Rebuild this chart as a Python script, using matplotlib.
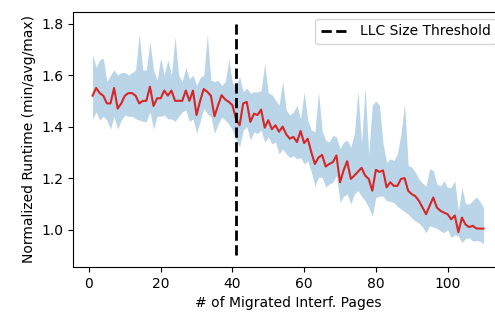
import numpy as np
import matplotlib
matplotlib.use("Agg")
import matplotlib.pyplot as plt

# values (x = 1..110)
pages = list(range(1, 111))

avg_runtime = [
    1.52, 1.55, 1.53, 1.52, 1.49, 1.49, 1.55, 1.47, 1.49, 1.52,
    1.53, 1.53, 1.52, 1.49, 1.50, 1.50, 1.555, 1.48, 1.51, 1.51,
    1.54, 1.52, 1.54, 1.50, 1.50, 1.50, 1.54, 1.50, 1.54, 1.445,
    1.50, 1.546, 1.535, 1.52, 1.44, 1.483, 1.522, 1.505, 1.496, 1.483,
    1.43, 1.405, 1.49, 1.496, 1.418, 1.45, 1.445, 1.466, 1.396, 1.425,
    1.39, 1.405, 1.38, 1.40, 1.37, 1.353, 1.36, 1.34, 1.383, 1.336,
    1.353, 1.30, 1.255, 1.28, 1.29, 1.245, 1.255, 1.262, 1.288, 1.184,
    1.23, 1.266, 1.197, 1.21, 1.225, 1.24, 1.21, 1.197, 1.151, 1.232,
    1.224, 1.23, 1.164, 1.184, 1.17, 1.17, 1.197, 1.20, 1.151, 1.138,
    1.13, 1.112, 1.086, 1.06, 1.093, 1.125, 1.086, 1.073, 1.066, 1.06,
    1.04, 1.055, 0.99, 1.047, 1.02, 1.01, 1.015, 1.005, 1.004, 1.004,
]

max_runtime = [
    1.68, 1.63, 1.66, 1.665, 1.575, 1.60, 1.62, 1.60, 1.61, 1.61,
    1.60, 1.61, 1.62, 1.76, 1.62, 1.62, 1.73, 1.62, 1.58, 1.667,
    1.60, 1.66, 1.60, 1.75, 1.60, 1.575, 1.63, 1.585, 1.60, 1.56,
    1.59, 1.60, 1.757, 1.58, 1.575, 1.58, 1.56, 1.575, 1.66, 1.57,
    1.56, 1.594, 1.535, 1.55, 1.53, 1.535, 1.535, 1.54, 1.646, 1.53,
    1.525, 1.503, 1.483, 1.575, 1.464, 1.445, 1.457, 1.483, 1.43, 1.535,
    1.425, 1.386, 1.38, 1.535, 1.386, 1.347, 1.34, 1.366, 1.36, 1.314,
    1.34, 1.347, 1.32, 1.373, 1.54, 1.335, 1.555, 1.294, 1.483, 1.50,
    1.483, 1.334, 1.262, 1.275, 1.268, 1.294, 1.373, 1.49, 1.249, 1.243,
    1.223, 1.197, 1.18, 1.17, 1.236, 1.23, 1.177, 1.17, 1.19, 1.164,
    1.164, 1.19, 1.073, 1.164, 1.10, 1.10, 1.112, 1.128, 1.11, 1.086,
]

min_runtime = [
    1.43, 1.457, 1.425, 1.44, 1.425, 1.39, 1.44, 1.39, 1.425, 1.445,
    1.44, 1.44, 1.43, 1.425, 1.42, 1.42, 1.457, 1.39, 1.44, 1.44,
    1.445, 1.43, 1.43, 1.42, 1.44, 1.457, 1.465, 1.42, 1.43, 1.374,
    1.42, 1.47, 1.45, 1.437, 1.373, 1.41, 1.437, 1.425, 1.41, 1.386,
    1.35, 1.32, 1.386, 1.40, 1.347, 1.38, 1.373, 1.386, 1.34, 1.36,
    1.333, 1.34, 1.294, 1.314, 1.294, 1.28, 1.287, 1.274, 1.28, 1.255,
    1.267, 1.223, 1.17, 1.203, 1.203, 1.165, 1.177, 1.184, 1.21, 1.105,
    1.13, 1.138, 1.10, 1.138, 1.151, 1.13, 1.112, 1.086, 1.053, 1.125,
    1.13, 1.13, 1.112, 1.11, 1.105, 1.09, 1.08, 1.07, 1.06, 1.045,
    1.034, 1.025, 1.01, 0.988, 1.015, 1.01, 1.005, 0.995, 0.988, 1.0,
    0.969, 0.98, 0.975, 0.95, 0.965, 0.969, 0.956, 0.958, 0.955, 0.945,
]

llc_threshold = 41
threshold_span = [0.9, 1.8]

fig = plt.figure(figsize=(4.95, 3.2), dpi=100)
# axes runs past the right edge, the reference is cropped there
ax = fig.add_axes([0.1475, 0.1656, 0.8687, 0.797])

ax.fill_between(pages, min_runtime, max_runtime, color="tab:blue", alpha=0.3, linewidth=0)
ax.plot(pages, avg_runtime, color="tab:red", linewidth=1.5)
ax.vlines(llc_threshold, threshold_span[0], threshold_span[1], colors="black",
          linestyles="dashed", linewidth=2, label="LLC Size Threshold")

ax.set_xlabel("# of Migrated Interf. Pages", fontsize=10)
ax.set_ylabel("Normalized Runtime (min/avg/max)", fontsize=10)
ax.tick_params(labelsize=10)
ax.legend(loc="upper right", fontsize=10)

fig.savefig("out.png", dpi=100)
